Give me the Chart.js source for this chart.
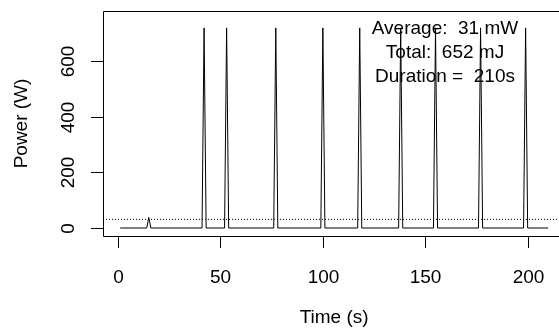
<!DOCTYPE html>
<html>
<head>
<meta charset="utf-8">
<script src="https://cdn.jsdelivr.net/npm/chart.js@4"></script>
<style>
    body { margin: 0; background: #fff; }
    #wrap { width: 559px; height: 331px; }
</style>
</head>
<body>
<div id="wrap"><canvas id="grafico-potencia" width="559" height="331"></canvas></div>
<script>
// Dados
let tempoS = [1, 14, 15, 16, 41, 42, 43, 52, 53, 54, 76, 77, 78, 99, 100, 101, 117, 118, 119, 137, 138, 139, 154, 155, 156, 176, 177, 178, 198, 199, 200, 210];
let potenciaW = [0, 0, 38, 0, 0, 719, 0, 0, 719, 0, 0, 719, 0, 0, 719, 0, 0, 719, 0, 0, 719, 0, 0, 719, 0, 0, 719, 0, 0, 719, 0, 0];
let mediaW = 31;
let xTicks = [0, 50, 100, 150, 200];
let yTicks = [0, 200, 400, 600];
let textoResumo = ["Average:  31 mW", "Total:  652 mJ", "Duration =  210s"];

const fonte = "19px 'Liberation Sans', Arial, sans-serif";

// limites no estilo do R (4% a mais de cada lado)
const xMin = -7.36, xMax = 215.3;
const yMin = -28.7, yMax = 779.7;

let pontos = tempoS.map((t, i) => ({ x: t, y: potenciaW[i] }));

// Plugin para desenhar eixos, caixa e textos no estilo base do R
const eixosR = {
    id: "eixosR",
    afterDraw(chart) {
        const ctx = chart.ctx;
        const area = chart.chartArea;
        const sx = chart.scales.x;
        const sy = chart.scales.y;
        ctx.save();
        ctx.strokeStyle = "#000";
        ctx.fillStyle = "#000";
        ctx.lineWidth = 1;

        // caixa (o lado direito fica fora da imagem)
        ctx.beginPath();
        ctx.moveTo(area.right, area.top + 0.5);
        ctx.lineTo(area.left + 0.5, area.top + 0.5);
        ctx.lineTo(area.left + 0.5, area.bottom + 0.5);
        ctx.lineTo(area.right, area.bottom + 0.5);
        ctx.stroke();

        ctx.font = fonte;

        // eixo x
        ctx.textAlign = "center";
        ctx.textBaseline = "middle";
        xTicks.forEach(v => {
            const px = Math.round(sx.getPixelForValue(v)) + 0.5;
            ctx.beginPath();
            ctx.moveTo(px, area.bottom);
            ctx.lineTo(px, area.bottom + 12);
            ctx.stroke();
            ctx.fillText(String(v), px, area.bottom + 42);
        });

        // eixo y (rótulos girados)
        yTicks.forEach(v => {
            const py = Math.round(sy.getPixelForValue(v)) + 0.5;
            ctx.beginPath();
            ctx.moveTo(area.left - 12, py);
            ctx.lineTo(area.left, py);
            ctx.stroke();
            ctx.save();
            ctx.translate(area.left - 34, py);
            ctx.rotate(-Math.PI / 2);
            ctx.fillText(String(v), 0, 0);
            ctx.restore();
        });

        // títulos
        ctx.fillText("Time (s)", sx.getPixelForValue(105.5), 318);
        ctx.save();
        ctx.translate(22, (area.top + area.bottom) / 2);
        ctx.rotate(-Math.PI / 2);
        ctx.fillText("Power (W)", 0, 0);
        ctx.restore();

        // resumo no canto
        textoResumo.forEach((linha, i) => {
            ctx.fillText(linha, 445, 29 + i * 24);
        });

        ctx.restore();
    }
};

let graficoPotencia = new Chart(
    document.getElementById("grafico-potencia"),
    {
        type: "line",
        data: {
            datasets: [
                {
                    label: "Power (W)",
                    data: pontos,
                    borderColor: "#000",
                    borderWidth: 1,
                    pointRadius: 0,
                    fill: false,
                    tension: 0
                },
                {
                    label: "Average",
                    data: [{ x: xMin, y: mediaW }, { x: xMax, y: mediaW }],
                    borderColor: "#000",
                    borderWidth: 1,
                    borderDash: [1, 2],
                    pointRadius: 0,
                    fill: false
                }
            ]
        },
        options: {
            responsive: false,
            animation: false,
            layout: {
                padding: { left: 103, top: 11, right: 0, bottom: 95 }
            },
            scales: {
                x: { type: "linear", min: xMin, max: xMax, display: false },
                y: { type: "linear", min: yMin, max: yMax, display: false }
            },
            plugins: {
                legend: { display: false },
                tooltip: { enabled: false }
            }
        },
        plugins: [eixosR]
    }
);
</script>
</body>
</html>
